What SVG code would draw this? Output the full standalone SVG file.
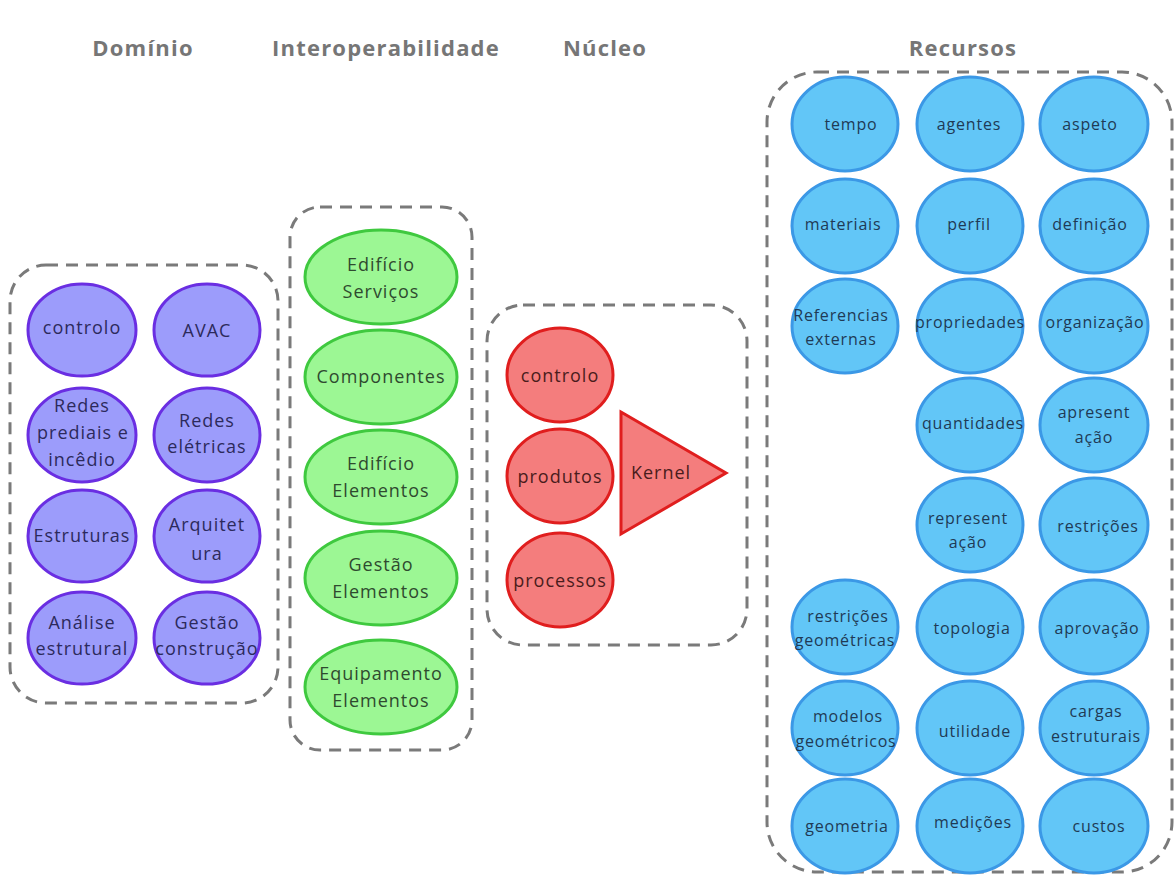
<svg xmlns="http://www.w3.org/2000/svg" width="1176" height="877" viewBox="0 0 1176 877">
  <style>
    .frame { fill: none; stroke: #7a7a7a; stroke-width: 3; stroke-dasharray: 12 8; }
    .title { font-family: "Open Sans", "Liberation Sans", sans-serif; font-size: 22px; font-weight: 700; fill: #767676; text-anchor: middle; letter-spacing: 1.2px; }
    text { font-family: "Open Sans", "Liberation Sans", sans-serif; text-anchor: middle; dominant-baseline: central; font-weight: 500; }
    .dom ellipse { fill: #9c9cfb; stroke: #6a2ee2; stroke-width: 3; }
    .dom text { font-size: 18px; letter-spacing: 1px; fill: #2c2a5c; }
    .int ellipse { fill: #9cf794; stroke: #3fc93f; stroke-width: 3; }
    .int text { font-size: 18px; letter-spacing: 1px; fill: #2f4a2f; }
    .nuc ellipse, .nuc polygon { fill: #f47d7d; stroke: #e01e1e; stroke-width: 3; }
    .nuc text { font-size: 18px; letter-spacing: 1px; fill: #4a1c1c; }
    .rec ellipse { fill: #62c6f7; stroke: #3b98e6; stroke-width: 3; }
    .rec text { font-size: 16px; letter-spacing: 0.8px; fill: #1f3a55; }
  </style>

  <!-- column headings -->
  <g id="headings">
    <text class="title" x="143" y="47">Domínio</text>
    <text class="title" x="386" y="47">Interoperabilidade</text>
    <text class="title" x="605" y="47">Núcleo</text>
    <text class="title" x="963" y="47">Recursos</text>
  </g>

  <!-- dashed group frames -->
  <g id="frames">
    <rect class="frame" x="10" y="265" width="268" height="438" rx="36"/>
    <rect class="frame" x="290" y="207" width="182" height="543" rx="30"/>
    <rect class="frame" x="487" y="305" width="260" height="340" rx="36"/>
    <rect class="frame" x="767" y="72" width="405" height="800" rx="50"/>
  </g>

  <!-- Domínio -->
  <g class="dom">
    <g id="dom-controlo"><ellipse cx="82" cy="330" rx="54" ry="46"/><text x="82" y="327">controlo</text></g>
    <g id="dom-avac"><ellipse cx="207" cy="330" rx="53" ry="46"/><text x="207" y="330">AVAC</text></g>
    <g id="dom-redes-prediais"><ellipse cx="82" cy="435" rx="54" ry="47"/><text x="82" y="405">Redes</text><text x="83" y="432">prediais e</text><text x="82" y="459">incêdio</text></g>
    <g id="dom-redes-eletricas"><ellipse cx="207" cy="435" rx="53" ry="47"/><text x="207" y="420">Redes</text><text x="207" y="446">elétricas</text></g>
    <g id="dom-estruturas"><ellipse cx="82" cy="536" rx="54" ry="46"/><text x="82" y="535">Estruturas</text></g>
    <g id="dom-arquitetura"><ellipse cx="207" cy="536" rx="53" ry="46"/><text x="207" y="524">Arquitet</text><text x="207" y="553">ura</text></g>
    <g id="dom-analise"><ellipse cx="82" cy="638" rx="54" ry="46"/><text x="82" y="622">Análise</text><text x="82" y="648">estrutural</text></g>
    <g id="dom-gestao"><ellipse cx="207" cy="638" rx="53" ry="46"/><text x="207" y="622">Gestão</text><text x="207" y="648">construção</text></g>
  </g>

  <!-- Interoperabilidade -->
  <g class="int">
    <g id="int-edificio-servicos"><ellipse cx="381" cy="277" rx="76" ry="47"/><text x="381" y="264">Edifício</text><text x="381" y="291">Serviços</text></g>
    <g id="int-componentes"><ellipse cx="381" cy="377" rx="76" ry="47"/><text x="381" y="376">Componentes</text></g>
    <g id="int-edificio-elementos"><ellipse cx="381" cy="477" rx="76" ry="47"/><text x="381" y="463">Edifício</text><text x="381" y="490">Elementos</text></g>
    <g id="int-gestao-elementos"><ellipse cx="381" cy="578" rx="76" ry="47"/><text x="381" y="564">Gestão</text><text x="381" y="591">Elementos</text></g>
    <g id="int-equipamento-elementos"><ellipse cx="381" cy="687" rx="76" ry="47"/><text x="381" y="673">Equipamento</text><text x="381" y="700">Elementos</text></g>
  </g>

  <!-- Núcleo -->
  <g class="nuc">
    <g id="nuc-controlo"><ellipse cx="560" cy="375" rx="53" ry="47"/><text x="560" y="375">controlo</text></g>
    <g id="nuc-produtos"><ellipse cx="560" cy="476" rx="53" ry="47"/><text x="560" y="476">produtos</text></g>
    <g id="nuc-processos"><ellipse cx="560" cy="580" rx="53" ry="47"/><text x="560" y="580">processos</text></g>
    <g id="nuc-kernel"><polygon points="621,412 726,473 621,534"/><text x="661" y="472">Kernel</text></g>
  </g>

  <!-- Recursos -->
  <g class="rec">
    <g id="rec-tempo"><ellipse cx="845" cy="124" rx="53" ry="47"/><text x="851" y="124">tempo</text></g>
    <g id="rec-agentes"><ellipse cx="970" cy="124" rx="53" ry="47"/><text x="969" y="124">agentes</text></g>
    <g id="rec-aspeto"><ellipse cx="1094" cy="124" rx="54" ry="47"/><text x="1090" y="124">aspeto</text></g>

    <g id="rec-materiais"><ellipse cx="845" cy="226" rx="53" ry="47"/><text x="843" y="224">materiais</text></g>
    <g id="rec-perfil"><ellipse cx="970" cy="226" rx="53" ry="47"/><text x="969" y="224">perfil</text></g>
    <g id="rec-definicao"><ellipse cx="1094" cy="226" rx="54" ry="47"/><text x="1090" y="224">definição</text></g>

    <g id="rec-referencias"><ellipse cx="845" cy="326" rx="53" ry="47"/><text x="841" y="315">Referencias</text><text x="841" y="339">externas</text></g>
    <g id="rec-propriedades"><ellipse cx="970" cy="326" rx="53" ry="47"/><text x="970" y="322">propriedades</text></g>
    <g id="rec-organizacao"><ellipse cx="1094" cy="326" rx="54" ry="47"/><text x="1095" y="322">organização</text></g>

    <g id="rec-quantidades"><ellipse cx="970" cy="425" rx="53" ry="47"/><text x="973" y="423">quantidades</text></g>
    <g id="rec-apresentacao"><ellipse cx="1094" cy="425" rx="54" ry="47"/><text x="1094" y="412">apresent</text><text x="1094" y="437">ação</text></g>

    <g id="rec-representacao"><ellipse cx="970" cy="525" rx="53" ry="47"/><text x="968" y="518">represent</text><text x="968" y="542">ação</text></g>
    <g id="rec-restricoes"><ellipse cx="1094" cy="525" rx="54" ry="47"/><text x="1098" y="526">restrições</text></g>

    <g id="rec-restricoes-geometricas"><ellipse cx="845" cy="627" rx="53" ry="47"/><text x="848" y="616">restrições</text><text x="845" y="640">geométricas</text></g>
    <g id="rec-topologia"><ellipse cx="970" cy="627" rx="53" ry="47"/><text x="972" y="628">topologia</text></g>
    <g id="rec-aprovacao"><ellipse cx="1094" cy="627" rx="54" ry="47"/><text x="1097" y="628">aprovação</text></g>

    <g id="rec-modelos-geometricos"><ellipse cx="845" cy="728" rx="53" ry="47"/><text x="848" y="716">modelos</text><text x="846" y="741">geométricos</text></g>
    <g id="rec-utilidade"><ellipse cx="970" cy="728" rx="53" ry="47"/><text x="975" y="731">utilidade</text></g>
    <g id="rec-cargas"><ellipse cx="1094" cy="728" rx="54" ry="47"/><text x="1096" y="711">cargas</text><text x="1096" y="736">estruturais</text></g>

    <g id="rec-geometria"><ellipse cx="845" cy="826" rx="53" ry="47"/><text x="847" y="826">geometria</text></g>
    <g id="rec-medicoes"><ellipse cx="970" cy="826" rx="53" ry="47"/><text x="973" y="822">medições</text></g>
    <g id="rec-custos"><ellipse cx="1094" cy="826" rx="54" ry="47"/><text x="1099" y="826">custos</text></g>
  </g>

  <!-- no connectors are drawn between the groups -->
  <g id="connectors"/>
</svg>
